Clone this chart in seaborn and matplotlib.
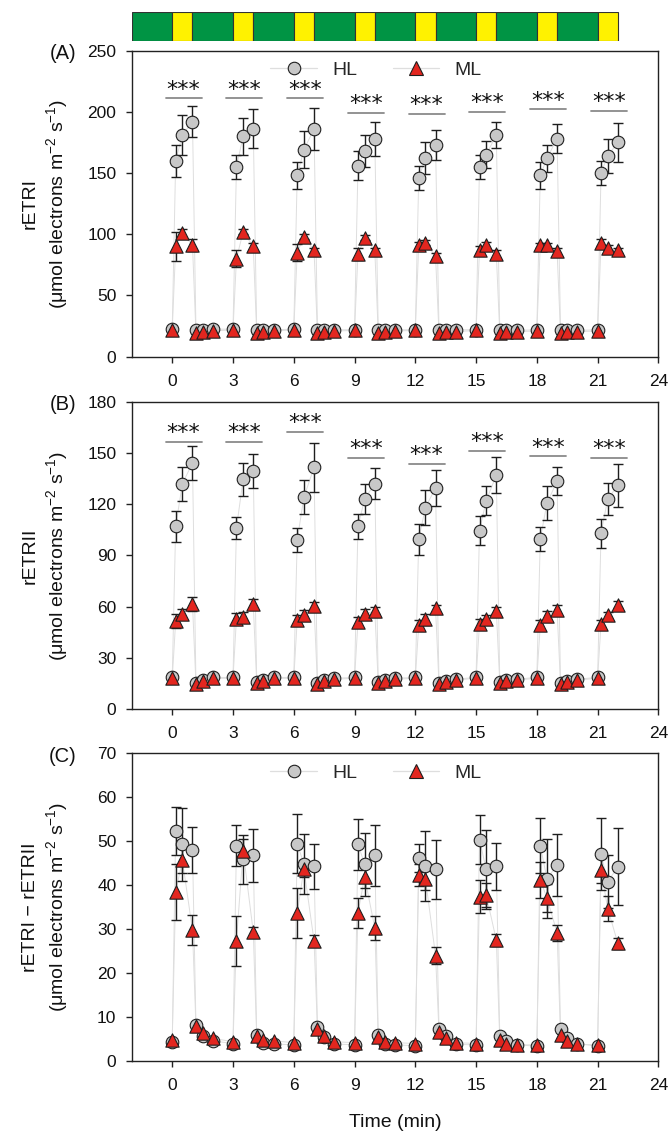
import matplotlib
matplotlib.use("Agg")
import matplotlib.pyplot as plt
from matplotlib.lines import Line2D
import pandas as pd
import seaborn as sns

# ---- sampling times (min): low-light points and high-light points ----
t_low = [0, 1.17, 1.5, 2, 3, 4.17, 4.5, 5, 6, 7.17, 7.5, 8, 9, 10.17, 10.5, 11,
         12, 13.17, 13.5, 14, 15, 16.17, 16.5, 17, 18, 19.17, 19.5, 20, 21]
t_high = [0.17, 0.5, 1, 3.17, 3.5, 4, 6.17, 6.5, 7, 9.17, 9.5, 10, 12.17, 12.5, 13,
          15.17, 15.5, 16, 18.17, 18.5, 19, 21.17, 21.5, 22]

# ---- light protocol shown above the panels ----
phase_start = [-2, 0, 1, 3, 4, 6, 7, 9, 10, 12, 13, 15, 16, 18, 19, 21]
phase_len = [2, 1, 2, 1, 2, 1, 2, 1, 2, 1, 2, 1, 2, 1, 2, 1]
phase_kind = ["low", "high"] * 8

# ---- (A) rETRI ----
etr1_hl_high = [160, 181, 192, 155, 180, 186, 148, 169, 186, 156, 168, 178,
                146, 162, 173, 155, 165, 181, 148, 162, 178, 150, 164, 175]
etr1_hl_se = [13, 16, 13, 10, 15, 16, 11, 15, 17, 12, 13, 14,
              10, 13, 12, 10, 11, 11, 11, 11, 12, 10, 14, 16]
etr1_ml_high = [90, 101, 91, 80, 102, 90, 85, 98, 87, 84, 97, 87,
                91, 93, 82, 87, 91, 84, 91, 91, 86, 93, 89, 87]
etr1_ml_se = [12, 3, 5, 7, 2, 3, 7, 2, 2, 5, 2, 2,
              3, 2, 3, 3, 3, 3, 2, 2, 3, 3, 2, 2]
etr1_hl_low = [22.5, 22, 22, 22.5, 22.5, 22, 22, 22, 22.5, 22, 22, 22, 22, 21.5, 22,
               22, 22, 21.5, 21.5, 22, 22, 21.5, 21.5, 21.5, 22, 21.5, 21.5, 21.5, 22]
etr1_ml_low = [22, 19.5, 20.5, 21, 22, 19.5, 20.5, 21, 22, 19.5, 20.5, 21, 21.5, 19.5, 20.5,
               21, 21.5, 19, 20, 20.5, 21.5, 19, 20, 20.5, 21, 19, 20, 20.5, 21]

# ---- (B) rETRII ----
etr2_hl_high = [107, 132, 144, 106, 134.5, 139.5, 99, 124, 141.5, 107, 123, 132,
                99.5, 118, 129.5, 104.5, 122, 137, 99.5, 120.5, 133.5, 103, 123, 131]
etr2_hl_se = [9, 10, 10, 6.5, 9.5, 10, 7, 10, 14.5, 7.5, 9, 9,
              9, 10, 10.5, 8.5, 8.5, 10.5, 7, 10, 8, 8.5, 9.5, 12.5]
etr2_ml_high = [51.5, 55.5, 61.5, 53, 54, 61.5, 52, 55, 60.5, 51, 55.5, 57.5,
                49, 52.5, 59, 50, 53, 57.5, 49, 54.5, 58, 50, 55, 61]
etr2_ml_se = [4, 3, 4, 3, 3, 3, 3, 3, 2, 3, 3, 2,
              3, 3, 2, 3, 2, 2, 3, 3, 3, 2, 2, 2]
etr2_hl_low = [18.5, 15, 17, 18.5, 18.5, 16, 17, 18.5, 18.5, 15, 17, 18, 18.5, 16, 17,
               18, 18.5, 15, 16.5, 17.5, 18.5, 16, 17, 17.5, 18.5, 15, 16.5, 17.5, 18.5]
etr2_ml_low = [18, 14.5, 16.5, 18, 18, 15.5, 16.5, 18, 18, 14.5, 16.5, 17.5, 18, 15.5, 16.5,
               17.5, 18, 14.5, 16, 17, 18, 15.5, 16.5, 17, 18, 14.5, 16, 17, 18]

# ---- (C) rETRI - rETRII ----
diff_hl_high = [52.2, 49.2, 47.9, 48.9, 45.8, 46.7, 49.4, 44.7, 44.2, 49.2, 44.7, 46.7,
                46.1, 44.3, 43.5, 50.3, 43.5, 44.2, 48.9, 41.4, 44.5, 47.0, 40.7, 44.1]
diff_hl_se = [5.5, 8.3, 5.2, 4.7, 5.5, 6.0, 6.6, 6.8, 5.1, 5.8, 7.2, 6.9,
              3.2, 8.0, 6.8, 5.6, 8.9, 5.4, 6.2, 9.0, 7.1, 8.1, 6.0, 8.8]
diff_ml_high = [38.4, 45.6, 29.7, 27.3, 47.7, 29.3, 33.5, 43.7, 27.3, 33.6, 41.8, 30.2,
                42.3, 41.4, 23.9, 37.3, 37.7, 27.4, 41.1, 37.0, 29.1, 43.3, 34.6, 26.7]
diff_ml_se = [6.3, 3.0, 3.4, 5.7, 2.8, 1.0, 5.7, 2.0, 1.3, 3.5, 2.6, 2.8,
              2.5, 2.5, 1.9, 3.7, 2.7, 1.4, 4.1, 3.2, 1.8, 2.9, 2.9, 1.3]
diff_hl_low = [4.2, 8.1, 5.6, 4.5, 3.9, 5.8, 4.1, 3.8, 3.6, 7.7, 5.3, 3.8, 3.6, 5.8, 3.9,
               3.6, 3.4, 7.3, 5.5, 3.7, 3.6, 5.6, 4.5, 3.6, 3.3, 7.3, 5.1, 3.9, 3.3]
diff_ml_low = [4.7, 7.9, 6.2, 5.1, 4.3, 5.5, 4.7, 4.5, 4.1, 7.3, 5.5, 4.3, 4.1, 5.3, 4.3,
               4.1, 3.9, 6.6, 5.1, 4.1, 3.9, 4.8, 3.8, 3.6, 3.6, 5.8, 4.5, 3.7, 3.6]

# heights of the significance brackets (y units of each panel)
sig_y_a = [211, 211, 211, 199, 198, 200, 202, 201]
sig_y_b = [156.6, 156.6, 162.5, 147, 143.5, 151, 148, 147]

# ---- style ----
sns.set_theme(style="ticks")
plt.rcParams["font.family"] = ["Liberation Sans", "DejaVu Sans"]
plt.rcParams["mathtext.fontset"] = "custom"
plt.rcParams["mathtext.rm"] = "Liberation Sans"
plt.rcParams["mathtext.it"] = "Liberation Sans:italic"
plt.rcParams["mathtext.default"] = "regular"

HL_FACE = "#c8c8c8"
ML_FACE = "#e3261f"
EDGE = "#1e1e1e"
CONNECT = "#dedede"
UNITS = r"($\mu$mol electrons m$^{-2}$ s$^{-1}$)"

fig = plt.figure(figsize=(6.69, 11.35), dpi=100)
fig.patch.set_facecolor("white")

LEFT, WIDTH = 0.1969, 0.7872
ax_a = fig.add_axes([LEFT, 0.6857, WIDTH, 0.2698])
ax_b = fig.add_axes([LEFT, 0.3753, WIDTH, 0.2708])
ax_c = fig.add_axes([LEFT, 0.0655, WIDTH, 0.2711])
ax_bar = fig.add_axes([LEFT, 0.9641, WIDTH, 0.0256])


def panel_frame(hl_high, hl_se, ml_high, ml_se, hl_low, ml_low):
    rows = []
    for grp, hi, se, lo in (("HL", hl_high, hl_se, hl_low), ("ML", ml_high, ml_se, ml_low)):
        for t, v in zip(t_low, lo):
            rows.append((grp, t, v, 0.0))
        for t, v, e in zip(t_high, hi, se):
            rows.append((grp, t, v, e))
    return pd.DataFrame(rows, columns=["group", "time", "value", "se"])


def draw_panel(ax, df, ymax, ystep, ylabel, letter, sig_y=None, legend=False):
    # faint connecting lines in time order
    sns.lineplot(data=df, x="time", y="value", hue="group",
                 palette={"HL": CONNECT, "ML": CONNECT}, estimator=None, sort=True,
                 linewidth=0.7, legend=False, ax=ax, zorder=1)
    # standard errors of the high-light points
    for grp in ("HL", "ML"):
        sub = df[(df["group"] == grp) & (df["se"] > 0)]
        ax.errorbar(sub["time"], sub["value"], yerr=sub["se"], fmt="none",
                    ecolor=EDGE, elinewidth=1.0, capsize=3.6, capthick=1.0, zorder=2)
    sns.scatterplot(data=df[df["group"] == "HL"], x="time", y="value", marker="o", s=82,
                    color=HL_FACE, edgecolor=EDGE, linewidth=0.8, legend=False, ax=ax, zorder=3)
    sns.scatterplot(data=df[df["group"] == "ML"], x="time", y="value", marker="^", s=92,
                    color=ML_FACE, edgecolor=EDGE, linewidth=0.8, legend=False, ax=ax, zorder=4)

    if sig_y is not None:
        for k, y in enumerate(sig_y):
            x0 = t_high[3 * k] - 0.5
            x1 = t_high[3 * k + 2] + 0.45
            ax.plot([x0, x1], [y, y], color="#8a8a8a", lw=1.3, zorder=2)
            ax.annotate("***", xy=((x0 + x1) / 2, y), xytext=(0, 2),
                        textcoords="offset points", ha="center", va="baseline",
                        fontsize=16, family="DejaVu Sans", color="#111111")

    ax.set_xlim(-2, 24)
    ax.set_ylim(0, ymax)
    ax.set_xticks(range(0, 25, 3))
    ax.set_yticks(range(0, ymax + 1, ystep))
    ax.tick_params(axis="both", direction="out", length=4, width=1.0,
                   color="#222222", labelsize=12.5, labelcolor="#111111")
    ax.tick_params(axis="x", pad=8.5)
    ax.tick_params(axis="y", pad=7)
    for sp in ax.spines.values():
        sp.set_visible(True)
        sp.set_linewidth(1.0)
        sp.set_color("#222222")
    ax.set_xlabel("")
    ax.set_ylabel(ylabel + "\n" + UNITS, fontsize=14, color="#111111", linespacing=1.25)
    ax.yaxis.set_label_coords(-0.118, 0.5)
    ax.text(-0.105, 0.99, letter, transform=ax.transAxes, ha="right", va="center",
            fontsize=14.5, color="#111111")

    if legend:
        handles = [
            Line2D([], [], color=CONNECT, lw=0.9, marker="o", markersize=9,
                   markerfacecolor=HL_FACE, markeredgecolor=EDGE, markeredgewidth=0.8),
            Line2D([], [], color=CONNECT, lw=0.9, marker="^", markersize=9.5,
                   markerfacecolor=ML_FACE, markeredgecolor=EDGE, markeredgewidth=0.8),
        ]
        ax.legend(handles, ["HL", "ML"], loc="center", bbox_to_anchor=(0.464, 0.935),
                  ncol=2, frameon=False, fontsize=14, handlelength=2.4,
                  handletextpad=0.8, columnspacing=1.8, borderpad=0)


draw_panel(ax_a, panel_frame(etr1_hl_high, etr1_hl_se, etr1_ml_high, etr1_ml_se,
                             etr1_hl_low, etr1_ml_low),
           250, 50, "rETRI", "(A)", sig_y=sig_y_a, legend=True)
draw_panel(ax_b, panel_frame(etr2_hl_high, etr2_hl_se, etr2_ml_high, etr2_ml_se,
                             etr2_hl_low, etr2_ml_low),
           180, 30, "rETRII", "(B)", sig_y=sig_y_b, legend=False)
draw_panel(ax_c, panel_frame(diff_hl_high, diff_hl_se, diff_ml_high, diff_ml_se,
                             diff_hl_low, diff_ml_low),
           70, 10, "rETRI \u2212 rETRII", "(C)", sig_y=None, legend=True)
ax_c.set_xlabel("Time (min)", fontsize=14, color="#111111", labelpad=15)

# light protocol strip: green = low light, yellow = high light
phase_colors = {"low": "#009444", "high": "#fff200"}
ax_bar.barh([0.5] * len(phase_start), phase_len, left=phase_start, height=1.0,
            color=[phase_colors[k] for k in phase_kind], edgecolor="#333333", linewidth=0.8)
ax_bar.set_xlim(-2, 24)
ax_bar.set_ylim(0, 1)
ax_bar.axis("off")

fig.savefig("out.png", dpi=100, facecolor="white")
